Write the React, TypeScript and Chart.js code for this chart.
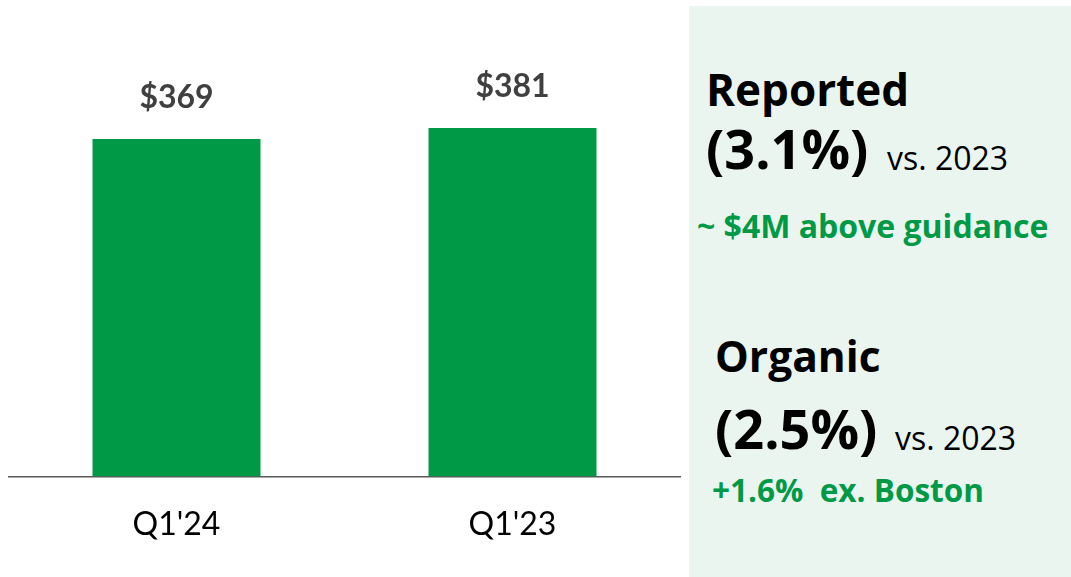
import React, { useEffect, useRef } from "react";
import { Chart, registerables } from "chart.js";

Chart.register(...registerables);

const categories = ["Q1'24", "Q1'23"];
const revenue = [369, 381];
const valueLabels = ["$369", "$381"];

const GREEN = "#009A46";
const FONT = "Lato, 'Open Sans', sans-serif";
const PANEL_FONT = "'Open Sans', Lato, sans-serif";

const valueLabelPlugin = {
  id: "valueLabels",
  afterDatasetsDraw(chart: any) {
    const ctx = chart.ctx;
    const meta = chart.getDatasetMeta(0);
    ctx.save();
    ctx.font = `bold 32px ${FONT}`;
    ctx.fillStyle = "#404040";
    ctx.textAlign = "center";
    ctx.textBaseline = "middle";
    meta.data.forEach((bar: any, i: number) => {
      ctx.fillText(valueLabels[i], bar.x, bar.y - 41);
    });
    ctx.restore();
  },
};

type TextItem = {
  text: string;
  left: number;
  baseline: number;
  size: number;
  bold: boolean;
  color: string;
};

const panelTexts: TextItem[] = [
  { text: "Reported", left: 706, baseline: 107, size: 44, bold: true, color: "#000" },
  { text: "(3.1%)", left: 706, baseline: 170, size: 54, bold: true, color: "#000" },
  { text: "vs. 2023", left: 887, baseline: 170, size: 32, bold: false, color: "#000" },
  { text: "~ $4M above guidance", left: 697, baseline: 238, size: 32, bold: true, color: GREEN },
  { text: "Organic", left: 715, baseline: 372, size: 42.5, bold: true, color: "#000" },
  { text: "(2.5%)", left: 715, baseline: 450, size: 54, bold: true, color: "#000" },
  { text: "vs. 2023", left: 895, baseline: 450, size: 32, bold: false, color: "#000" },
  { text: "+1.6%  ex. Boston", left: 712, baseline: 503, size: 31.5, bold: true, color: GREEN },
];

export default function App() {
  const canvasRef = useRef<HTMLCanvasElement | null>(null);

  useEffect(() => {
    if (!canvasRef.current) return;
    const chart = new Chart(canvasRef.current, {
      type: "bar",
      data: {
        labels: categories,
        datasets: [
          {
            data: revenue,
            backgroundColor: GREEN,
            barPercentage: 0.5,
            categoryPercentage: 1,
          },
        ],
      },
      options: {
        animation: false,
        responsive: false,
        devicePixelRatio: 1,
        layout: { padding: { left: 8.5, right: 8.5, top: 19, bottom: 4 } },
        plugins: {
          legend: { display: false },
          tooltip: { enabled: false },
        },
        scales: {
          x: {
            grid: { display: false, drawTicks: false },
            border: { display: true, color: "#595959", width: 1.5 },
            ticks: {
              color: "#000",
              padding: 29,
              font: { family: FONT, size: 32 },
            },
          },
          y: {
            display: false,
            min: 0,
            max: 500,
          },
        },
      },
      plugins: [valueLabelPlugin],
    });
    return () => chart.destroy();
  }, []);

  return (
    <div
      style={{
        position: "absolute",
        left: 0,
        top: 0,
        width: 1071,
        height: 577,
        background: "#fff",
        overflow: "hidden",
        fontFamily: PANEL_FONT,
      }}
    >
      <canvas
        ref={canvasRef}
        width={689}
        height={577}
        style={{ position: "absolute", left: 0, top: 0, width: 689, height: 577 }}
      />
      <div
        style={{
          position: "absolute",
          left: 689,
          top: 6,
          width: 382,
          height: 571,
          background: "#EBF5EF",
        }}
      />
      {panelTexts.map((t, i) => (
        <div
          key={i}
          style={{
            position: "absolute",
            left: t.left,
            top: t.baseline - 1.069 * t.size,
            fontSize: t.size,
            lineHeight: `${1.362 * t.size}px`,
            fontWeight: t.bold ? 700 : 400,
            color: t.color,
            whiteSpace: "pre",
          }}
        >
          {t.text}
        </div>
      ))}
    </div>
  );
}
